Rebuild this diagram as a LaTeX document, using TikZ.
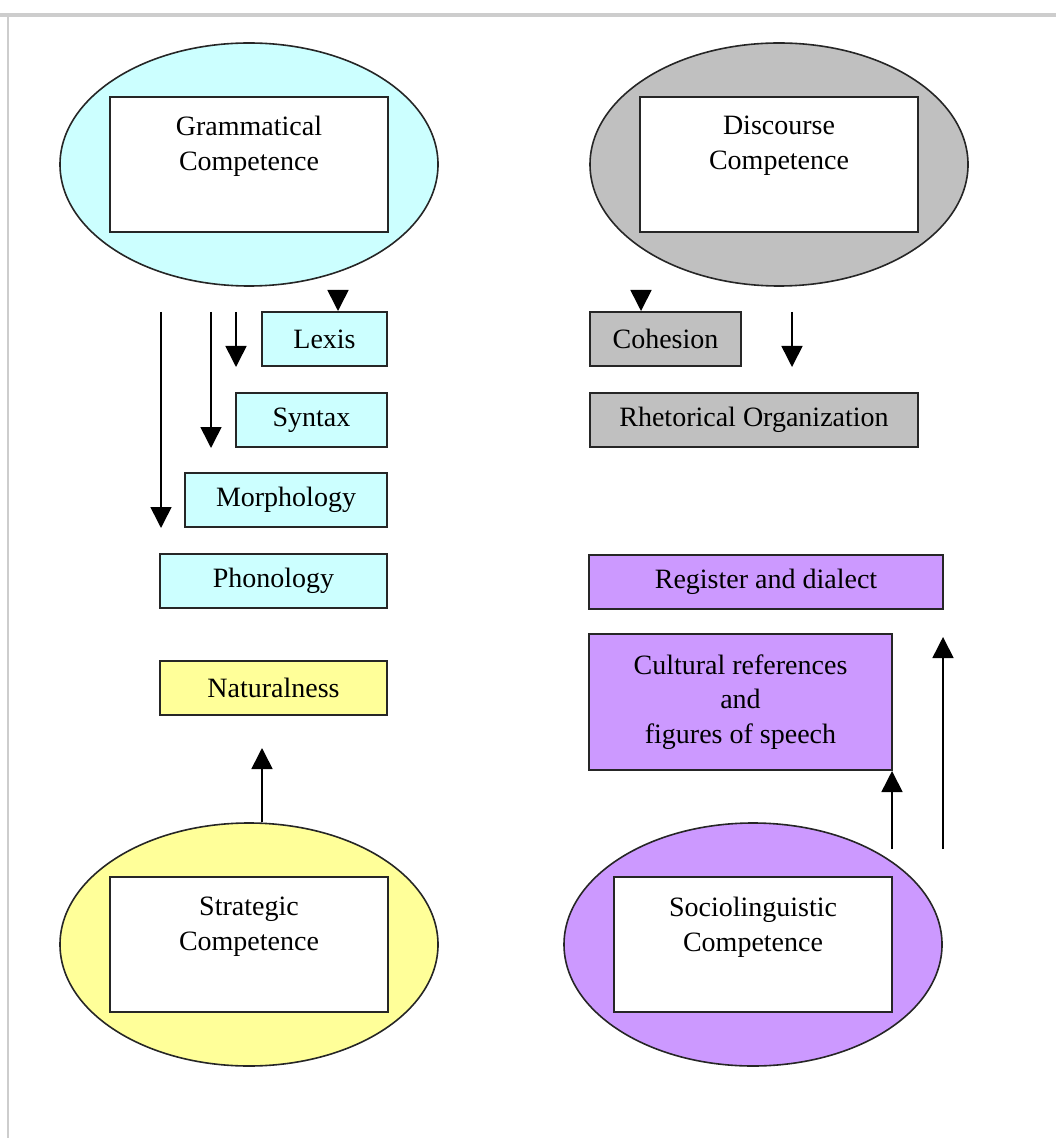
\documentclass[tikz,border=0pt]{standalone}
\usepackage{fontspec}
\setmainfont{Liberation Serif}
\usepackage{tikz}
\usetikzlibrary{positioning,arrows.meta,shapes.geometric}
\definecolor{gramfill}{HTML}{CCFFFF}
\definecolor{discfill}{HTML}{C0C0C0}
\definecolor{stratfill}{HTML}{FFFF99}
\definecolor{sociofill}{HTML}{CC99FF}
\definecolor{framegray}{RGB}{205,205,205}
\tikzset{
  compell/.style={ellipse, draw=black!85, line width=0.8pt, inner sep=0pt,
                  minimum width=189pt, minimum height=121.5pt},
  inbox/.style={rectangle, draw=black!85, fill=white, line width=1pt, inner sep=0pt,
                minimum width=139pt, minimum height=67.5pt},
  intext/.style={align=center, inner sep=0pt, anchor=north,
                 font=\fontsize{14}{17.3}\selectfont},
  subbox/.style={rectangle, draw=black!85, line width=1pt, inner sep=0pt,
                 minimum height=27pt, align=center, font=\fontsize{14}{17.3}\selectfont},
  arr/.style={line width=0.8pt, -{Triangle[length=10.5pt,width=10.5pt]}},
}

\begin{document}
\begin{tikzpicture}[x=0.5pt,y=-0.5pt]
  \useasboundingbox (0,0) rectangle (1056,1138);
  % page frame
  \draw[framegray, line width=1.6pt] (0,15) -- (1056,15);
  \draw[framegray, line width=0.9pt] (8,15) -- (8,1138);

  % four competences
  \node[compell, fill=gramfill]  (gram)  at (249,164.5) {};
  \node[compell, fill=discfill]  (disc)  at (779,164.5) {};
  \node[compell, fill=stratfill] (strat) at (249,944.5) {};
  \node[compell, fill=sociofill] (socio) at (753,944.5) {};
  \node[inbox] (gbox) at (gram)  {};
  \node[inbox] (dbox) at (disc)  {};
  \node[inbox] (sbox) at (strat) {};
  \node[inbox] (obox) at (socio) {};
  \node[intext, below=10pt of gbox.north] (gtext) {Grammatical\\Competence};
  \node[intext, below=10pt of dbox.north] (dtext) {Discourse\\Competence};
  \node[intext, below=10.5pt of sbox.north] (stext) {Strategic\\Competence};
  \node[intext, below=10.5pt of obox.north] (otext) {Sociolinguistic\\Competence};

  % grammatical parts
  \node[subbox, fill=gramfill, minimum width=62.5pt]  (lexis) at (324.5,339) {Lexis};
  \node[subbox, fill=gramfill, minimum width=75.5pt]  (syntax) at (311.5,420) {Syntax};
  \node[subbox, fill=gramfill, minimum width=101pt]   (morph) at (286,500) {Morphology};
  \node[subbox, fill=gramfill, minimum width=113.5pt] (phon) at (273.5,581) {Phonology};
  % strategic part
  \node[subbox, fill=stratfill, minimum width=113.5pt] (natural) at (273.5,688) {Naturalness};
  % discourse parts
  \node[subbox, fill=discfill, minimum width=75.5pt] (cohes) at (665.5,339) {Cohesion};
  \node[subbox, fill=discfill, minimum width=164pt]  (rhet) at (754,420) {Rhetorical Organization};
  % sociolinguistic parts
  \node[subbox, fill=sociofill, minimum width=177pt] (regist) at (766,581.5) {Register and dialect};
  \node[subbox, fill=sociofill, minimum width=151.5pt, minimum height=68pt] (cult) at (740.5,702)
       {Cultural references\\and\\figures of speech};

  % arrow ends
  \coordinate (g1) at (338,290);
  \coordinate (d1) at (641,290);
  \coordinate (l1) at (236,312);
  \coordinate (l2) at (211,312);
  \coordinate (l3) at (161,312);
  \coordinate (r1) at (792,312);
  \coordinate (s1) at (262,822);
  \coordinate (s2) at (262,748);
  \coordinate (o1) at (892,849);
  \coordinate (o2) at (943,849);
  \coordinate (o3) at (943,637);

  \draw[arr] (g1) -- (lexis.north -| g1);
  \draw[arr] (d1) -- (cohes.north -| d1);
  \draw[arr] (l1) -- (lexis.south -| l1);
  \draw[arr] (l2) -- (syntax.south -| l2);
  \draw[arr] (l3) -- (morph.south -| l3);
  \draw[arr] (r1) -- (cohes.south -| r1);
  \draw[arr] (s1) -- (s2);
  \draw[arr] (o1) -- (cult.south -| o1);
  \draw[arr] (o2) -- (o3);
\end{tikzpicture}
\end{document}
